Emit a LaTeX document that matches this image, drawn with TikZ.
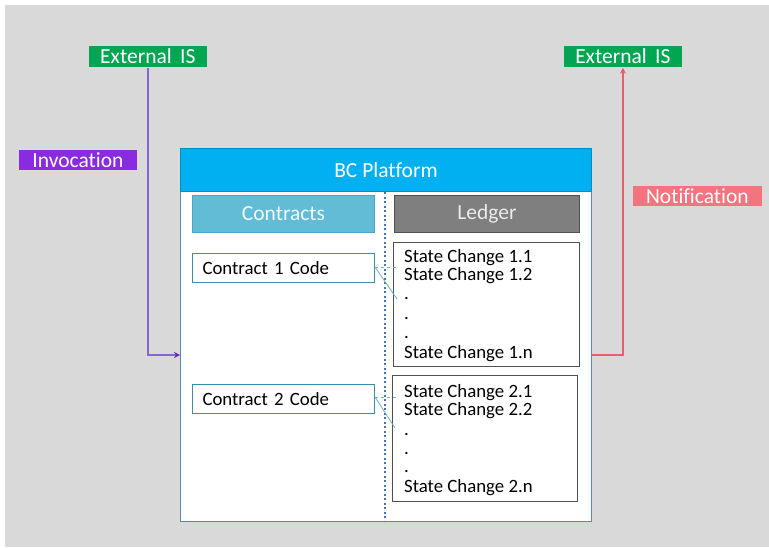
\documentclass[tikz,border=0pt]{standalone}
\usepackage{fontspec}
\setmainfont{Carlito}[Ligatures=NoCommon]
\usetikzlibrary{arrows.meta}
\definecolor{bggray}{HTML}{D9D9D9}
\definecolor{extgreen}{HTML}{00A651}
\definecolor{invpurple}{HTML}{8A2BE2}
\definecolor{notpink}{HTML}{F3737E}
\definecolor{bcblue}{HTML}{00B0F0}
\definecolor{bcborder}{HTML}{5B84BE}
\definecolor{ctrfill}{HTML}{62BCD6}
\definecolor{ctrborder}{HTML}{4BA6C2}
\definecolor{ledgfill}{HTML}{7F7F7F}
\definecolor{ledgborder}{HTML}{505050}
\definecolor{teal}{HTML}{3A8FA8}
\definecolor{dotblue}{HTML}{4472C4}
\definecolor{invline}{HTML}{8468CC}
\definecolor{invarrow}{HTML}{6A22C8}
\definecolor{notline}{HTML}{E4606E}
\tikzset{
  labelfont/.style={font=\fontsize{21.5}{24}\selectfont},
  bodyfont/.style={font=\fontsize{18.8}{21}\selectfont},
  tagbox/.style={labelfont, text=white, draw=white!85!black, line width=0.8pt, inner sep=0pt, anchor=north west},
  codebox/.style={bodyfont, draw=teal, line width=1pt, fill=white, anchor=north west, minimum width=182pt, minimum height=29pt, text width=162pt, inner xsep=10pt, inner ysep=0pt, align=left},
  ledgbox/.style={draw=ledgborder, line width=1.2pt, fill=white, anchor=north west, inner sep=0pt},
  statetxt/.style={bodyfont, anchor=base west, inner sep=0pt},
  headbox/.style={labelfont, anchor=north west, inner sep=0pt, line width=1pt},
}
\begin{document}
\begin{tikzpicture}[x=1pt,y=-1pt]
\useasboundingbox (0,0) rectangle (769,547);
\fill[white] (0,0) rectangle (769,547);
\fill[bggray] (5,5) rectangle (769,547);

% BC platform
\node[draw=bcborder, line width=1.2pt, fill=white, anchor=north west, minimum width=411pt, minimum height=373pt, inner sep=0pt] (bc) at (180,148) {};
\node[headbox, fill=bcblue, draw=bcblue!80!black, text=white, minimum width=411pt, minimum height=43pt] (bchead) at (180,148) {BC Platform};
\draw[dotblue, line width=1.1pt, dash pattern=on 2pt off 2.5pt] (bchead.south -| 385,0) -- (bc.south -| 385,0);

\node[headbox, fill=ctrfill, draw=ctrborder, text=white!92!ctrfill, minimum width=182pt, minimum height=37pt] (contracts) at (192,195) {Contracts};
\node[headbox, fill=ledgfill, draw=ledgborder, text=white!92!black, minimum width=185pt, minimum height=37pt] (ledger) at (394,195) {Ledger};

% contract code boxes
\node[codebox] (c1) at (192,253) {Contract 1 Code};
\node[codebox] (c2) at (192,384) {Contract 2 Code};

% ledger boxes
\node[ledgbox, minimum width=186pt, minimum height=124pt] (l1) at (393,242) {};
\node[ledgbox, minimum width=185pt, minimum height=126pt] (l2) at (392,375) {};

\node[statetxt] (s11) at (404,262) {State Change 1.1};
\node[statetxt] (s12) at (404,280) {State Change 1.2};
\node[statetxt] (d11) at (404,299) {.};
\node[statetxt] (d12) at (404,319) {.};
\node[statetxt] (d13) at (404,338) {.};
\node[statetxt] (s1n) at (404,358) {State Change 1.n};

\node[statetxt] (s21) at (404,397) {State Change 2.1};
\node[statetxt] (s22) at (404,415) {State Change 2.2};
\node[statetxt] (d21) at (404,435) {.};
\node[statetxt] (d22) at (404,454) {.};
\node[statetxt] (d23) at (404,472) {.};
\node[statetxt] (s2n) at (404,492) {State Change 2.n};

% contract -> ledger connectors
\coordinate (h1) at (398,267);
\coordinate (g1) at (397,299);
\coordinate (h2) at (398,397);
\coordinate (g2) at (395,428);
\draw[teal!70!white, line width=0.8pt, dashed] (c1.east |- h1) -- (h1);
\draw[teal!70!white, line width=0.8pt] (c1.east |- h1) -- (g1);
\draw[teal!70!white, line width=0.8pt, dashed] (c2.east |- h2) -- (h2);
\draw[teal!70!white, line width=0.8pt] (c2.east |- h2) -- (g2);

% external labels
\node[tagbox, fill=extgreen, minimum width=119pt, minimum height=22pt] (ext1) at (88,45) {External\, IS};
\node[tagbox, fill=extgreen, minimum width=119pt, minimum height=22pt] (ext2) at (563,45) {External\, IS};
\node[tagbox, fill=invpurple, minimum width=119pt, minimum height=21pt] (inv) at (18,149) {Invocation};
\node[tagbox, fill=notpink, minimum width=130pt, minimum height=21pt] (notif) at (632,185) {Notification};

% arrows
\coordinate (invturn) at (ext1.south |- 0,355);
\draw[invline, line width=1.2pt, -{Stealth[length=6pt,width=6pt,color=invarrow]}] (ext1.south) -- (invturn) -- (bc.west |- invturn);
\coordinate (notturn) at (ext2.south |- 0,355);
\draw[notline, line width=1.2pt, -{Stealth[length=6pt,width=6pt]}] (bc.east |- notturn) -- (notturn) -- (ext2.south);
\end{tikzpicture}
\end{document}
